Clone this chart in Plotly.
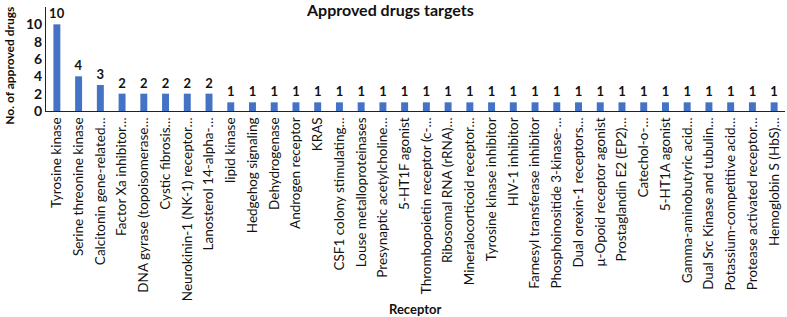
import plotly.graph_objects as go

categories = [
    "Tyrosine kinase", "Serine threonine kinase", "Calcitonin gene-related…",
    "Factor Xa inhibitor…", "DNA gyrase (topoisomerase…", "Cystic fibrosis…",
    "Neurokinin-1 (NK-1) receptor…", "Lanosterol 14-alpha-…", "lipid kinase",
    "Hedgehog signaling", "Dehydrogenase", "Androgen receptor", "KRAS",
    "CSF1 colony stimulating…", "Louse metalloproteinases",
    "Presynaptic acetylcholine…", "5-HT1F agonist", "Thrombopoietin receptor (c-…",
    "Ribosomal RNA (rRNA)…", "Mineralocorticoid receptor…",
    "Tyrosine kinase inhibitor", "HIV-1 inhibitor", "Farnesyl transferase inhibitor",
    "Phosphoinositide 3-kinase-…", "Dual orexin-1 receptors…",
    "μ-Opoid receptor agonist", "Prostaglandin E2 (EP2)…", "Catechol-o-…",
    "5-HT1A agonist", "Gamma-aminobutyric acid…", "Dual Src Kinase and tubulin…",
    "Potassium-competitive acid…", "Protease activated receptor…",
    "Hemoglobin S (HbS)…",
]
values = [10, 4, 3, 2, 2, 2, 2, 2] + [1] * 26
y_ticks = [0, 2, 4, 6, 8, 10, 12]

fig = go.Figure(go.Bar(
    x=categories, y=values,
    marker=dict(color="#4472C4", line=dict(width=0)),
    text=[str(v) for v in values], textposition="outside", cliponaxis=False,
    textfont=dict(family="Lato", size=13, color="#111111", weight="bold"),
))

fig.update_layout(
    width=787, height=317,
    margin=dict(l=46, r=2, t=7, b=206, autoexpand=False),
    paper_bgcolor="white", plot_bgcolor="white",
    bargap=0.68, showlegend=False, uniformtext=dict(mode=False),
    title=dict(text="<b>Approved drugs targets</b>", xref="container", x=0.496,
               xanchor="center", yref="container", y=0.985, yanchor="top",
               font=dict(family="Lato", size=16, color="#111111")),
    font=dict(family="Lato", color="#111111"),
    annotations=[
        dict(text="<b>No. of approved drugs</b>", xref="paper", yref="paper",
             x=-0.049, y=0.433, xanchor="center", yanchor="middle", textangle=-90,
             showarrow=False, font=dict(family="Lato", size=12, color="#111111")),
        dict(text="<b>Receptor</b>", xref="paper", yref="paper",
             x=0.50, y=-1.9, xanchor="center", yanchor="middle",
             showarrow=False, font=dict(family="Lato", size=13, color="#111111")),
    ],
)
fig.update_traces(constraintext="none")
fig.update_xaxes(
    showline=True, linecolor="#222222", linewidth=1, ticks="", automargin=False,
    tickangle=-90, tickfont=dict(family="Lato", size=13.5, color="#111111"),
    ticklabelstandoff=0, showgrid=False,
)
fig.update_yaxes(
    range=[0, 12], tickvals=y_ticks, showline=True, linecolor="#222222", linewidth=1,
    ticks="", showgrid=False, zeroline=False, automargin=False,
    tickfont=dict(family="Lato", size=14, color="#111111", weight="bold"),
)

fig.write_html("out.html", config={"displayModeBar": False},
               post_script="document.body.style.margin='0';")
